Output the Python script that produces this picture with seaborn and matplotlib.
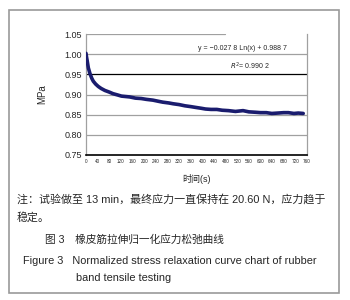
import pandas as pd
import matplotlib.pyplot as plt
import matplotlib.patches as mpatches
import seaborn as sns

# --- DATA ---
tid_s = [0, 2, 4, 8, 14, 20, 25, 33, 42, 52, 65, 80, 93, 108, 122, 136, 150, 170,
         190, 207, 230, 250, 264, 285, 300, 320, 340, 360, 377, 395, 411, 430,
         450, 468, 490, 514, 540, 560, 582, 600, 620, 639, 660, 680, 696, 715,
         730, 747]
mpa = [1.002, 0.992, 0.984, 0.966, 0.951, 0.940, 0.933, 0.926, 0.920, 0.915,
       0.910, 0.906, 0.902, 0.899, 0.896, 0.895, 0.894, 0.891, 0.890, 0.888,
       0.886, 0.883, 0.881, 0.879, 0.877, 0.875, 0.872, 0.870, 0.868, 0.866,
       0.864, 0.863, 0.863, 0.861, 0.860, 0.858, 0.860, 0.857, 0.856, 0.855,
       0.855, 0.853, 0.854, 0.855, 0.855, 0.853, 0.854, 0.853]
y_ticks = [0.75, 0.80, 0.85, 0.90, 0.95, 1.00, 1.05]
x_ticks = list(range(0, 761, 40))

df = pd.DataFrame({"tid": tid_s, "MPa": mpa})

sns.set_style("white")
plt.rcParams["font.family"] = ["Liberation Sans", "Noto Sans CJK SC", "DejaVu Sans"]

fig = plt.figure(figsize=(3.5, 3.0), dpi=100)

# ytre grå ramme
fig.patches.append(mpatches.Rectangle((9 / 350, 7 / 300), 330 / 350, 283 / 300,
                                      transform=fig.transFigure, fill=False,
                                      edgecolor="#9a9a9a", linewidth=1.2))

ax = fig.add_axes([86 / 350, 145 / 300, 221 / 350, 121 / 300])

# --- GRID ---
for v in y_ticks[1:-1]:
    ax.axhline(v, color="black" if v == 0.95 else "#a0a0a0", linewidth=0.9, zorder=1)
ax.axhline(1.05, xmax=0.63, color="#a0a0a0", linewidth=0.9, zorder=1)

sns.lineplot(data=df, x="tid", y="MPa", color="#1a1c6e", linewidth=2.6, ax=ax, zorder=3)

ax.set_xlim(0, 760)
ax.set_ylim(0.75, 1.05)
ax.set_yticks(y_ticks)
ax.set_yticklabels([f"{v:.2f}" for v in y_ticks], fontsize=6.5)
ax.set_xticks(x_ticks)
ax.set_xticklabels([str(v) for v in x_ticks], fontsize=3.3)
ax.set_xticks(range(0, 761, 10), minor=True)
ax.tick_params(axis="x", which="both", direction="in", length=3, width=1.2,
               color="black", pad=3)
ax.tick_params(axis="y", length=0, pad=3)

ax.spines["top"].set_visible(False)
for s in ["left", "right"]:
    ax.spines[s].set_color("#a0a0a0")
    ax.spines[s].set_linewidth(0.9)
ax.spines["bottom"].set_color("black")
ax.spines["bottom"].set_linewidth(1.2)

ax.set_xlabel("时间(s)", fontsize=6.5, labelpad=7)
ax.set_ylabel("MPa", fontsize=7, labelpad=12)

ax.text(0.91, 0.884, "y = \u22120.027 8 Ln(x) + 0.988 7", transform=ax.transAxes,
        fontsize=5, ha="right", va="center")
ax.text(0.83, 0.735, "$R^2$= 0.990 2", transform=ax.transAxes,
        fontsize=5, ha="right", va="center")

# --- NOTES / CAPTION ---
fig.text(17 / 350, 1 - 199 / 300,
         "注：试验做至 13 min，最终应力一直保持在 20.60 N，应力趋于",
         fontsize=7.9, va="center", ha="left")
fig.text(17 / 350, 1 - 217 / 300, "稳定。", fontsize=7.9, va="center", ha="left")
fig.text(45 / 350, 1 - 240 / 300, "图 3　橡皮筋拉伸归一化应力松弛曲线",
         fontsize=7.7, va="center", ha="left")
fig.text(23 / 350, 1 - 261 / 300,
         "Figure 3   Normalized stress relaxation curve chart of rubber",
         fontsize=7.9, va="center", ha="left")
fig.text(76 / 350, 1 - 278 / 300, "band tensile testing",
         fontsize=7.9, va="center", ha="left")

fig.savefig("out.png", dpi=100)
